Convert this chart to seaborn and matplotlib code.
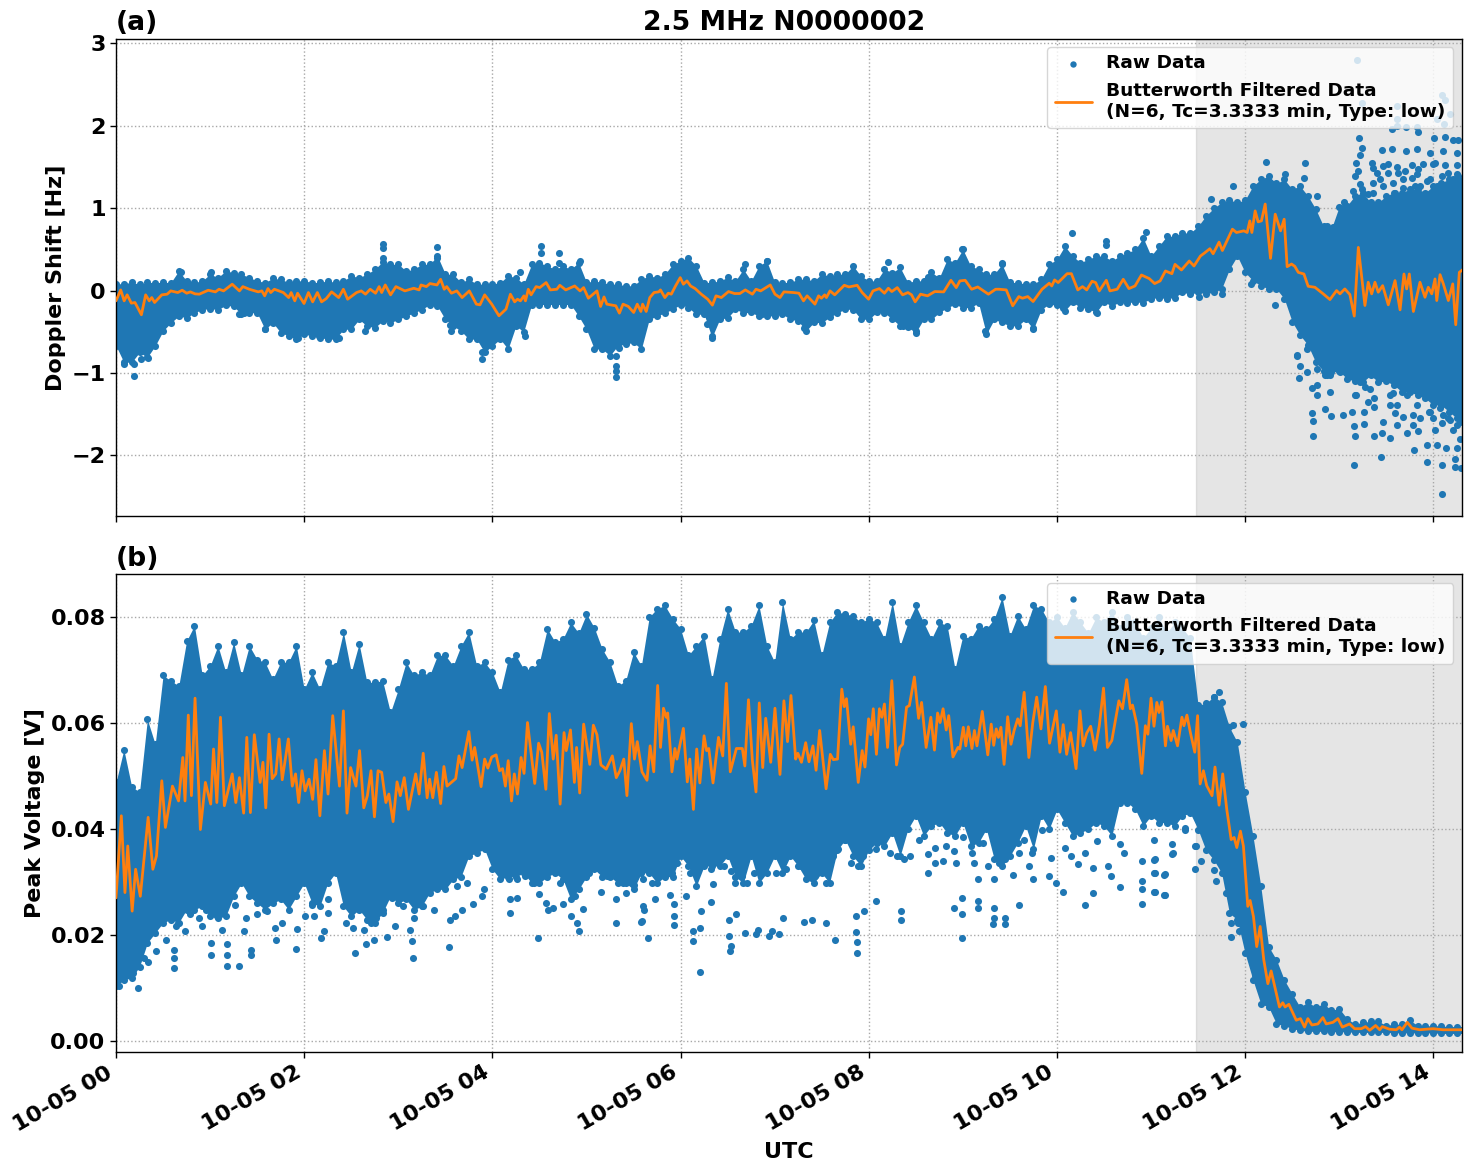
import numpy as np
import pandas as pd
import matplotlib
matplotlib.use("Agg")
import matplotlib.pyplot as plt
import matplotlib.dates as mdates
import matplotlib.ticker as mticker
import seaborn as sns

START = pd.Timestamp("2024-10-05 00:00")
BLUE = "#1f77b4"
ORANGE = "#ff7f0e"

# Doppler shift: extent of the raw cloud at whole 10-minute marks (Hz)
doppler_hi = [.08,.10,.10,.10,.24,.10,.20,.24,.20,.12,.15,.10,.12,.10,.10,.18,.20,.35,.32,.26,.32,.20,.10,.08,.08,.18,.08,.34,.26,.26,.10,.10,.08,.06,.18,.20,.36,.30,.10,.16,.26,.30,.10,.10,.14,.20,.20,.30,.12,.26,.28,.12,.22,.38,.50,.26,.20,.10,.08,.14,.38,.42,.38,.42,.42,.50,.42,.66,.70,.78,1.0,1.1,1.1,1.35,1.3,1.23,1.15,.78,1.02,1.15,1.07,1.15,1.19,1.23,1.27,1.35,1.39]
doppler_lo = [-.67,-.87,-.81,-.49,-.31,-.27,-.22,-.18,-.29,-.27,-.39,-.55,-.53,-.57,-.59,-.47,-.43,-.37,-.35,-.27,-.17,-.35,-.49,-.59,-.67,-.71,-.50,-.17,-.17,-.17,-.47,-.71,-.67,-.63,-.35,-.27,-.17,-.29,-.57,-.33,-.27,-.31,-.31,-.35,-.49,-.39,-.27,-.23,-.35,-.27,-.43,-.51,-.35,-.21,-.21,-.15,-.35,-.43,-.35,-.23,-.18,-.14,-.22,-.14,-.14,-.14,-.10,-.10,-.02,-.02,-.02,.26,.22,.06,.02,-.38,-.66,-.98,-.98,-1.1,-1.03,-1.1,-1.23,-1.27,-1.39,-1.47,-1.59]
# Same extent at the 5-minute marks in between
doppler_hi_mid = [.085,.077,.097,.097,.117,.117,.157,.218,.157,.097,.137,.117,.097,.117,.117,.157,.258,.318,.238,.318,.419,.198,.137,.077,.097,.157,.318,.298,.298,.339,.117,.077,.056,.137,.157,.318,.399,.097,.117,.117,.117,.359,.097,.137,.117,.177,.198,.177,.117,.218,.097,.117,.157,.339,.298,.198,.318,.097,.077,.318,.54,.339,.419,.359,.459,.64,.54,.66,.70,.907,1.07,1.07,1.27,1.39,1.35,1.27,.99,.75,1.03,1.19,1.07,1.19,1.23,1.19,1.31,1.37]
doppler_lo_mid = [-.87,-.75,-.67,-.39,-.33,-.23,-.23,-.19,-.27,-.47,-.51,-.59,-.55,-.59,-.47,-.35,-.45,-.39,-.31,-.23,-.19,-.43,-.59,-.75,-.59,-.43,-.17,-.17,-.17,-.31,-.71,-.79,-.65,-.71,-.31,-.226,-.206,-.286,-.347,-.226,-.266,-.306,-.286,-.367,-.387,-.326,-.226,-.347,-.266,-.347,-.448,-.347,-.266,-.165,-.206,-.528,-.387,-.428,-.468,-.165,-.246,-.206,-.266,-.186,-.145,-.145,-.085,-.085,-.044,-.04,.02,.42,.12,.02,-.10,-.54,-.87,-.99,-1.07,-1.11,-1.11,-1.15,-1.23,-1.31,-1.39,-1.55]

# Doppler shift: isolated raw samples outside the dense cloud (minutes, Hz)
doppler_out_min = [170.5,170.5,170.5,204.7,204.7,271.1,271.1,282.7,282.7,296,60.4,257.6,41.7,11.4,5.2,11.4,8.7,20.7,16.2,5.2,95.3,78.2,81.6,129.5,115.8,142.5,158.5,158.5,213.9,212.7,233.2,233.2,318.7,318.7,318.7,318.7,309.6,314.6,321,260.6,203.6,380.3,376.9,400.8,415,412,438.4,492.5,501.6,510,554,584.8,595,609.4,631.5,603.7,625.8,517.5,539.2,564.7,657,631.5,690.7,705,698.5,712.4,733.6,745.3,758.5,757.7,766,739,724,754.9,754.5,752.8,762.8,763.4,763.4,770.8,774.5,765.6,774,759.2,782.6,788,789.6,790,789.6,796,796,802.4,802.4,802.4,807,806.6,812.4,815.6,823,827.7,836.2,836.2,842.6,845.8,845.8,853.9,853.9,857.5,848.2,855,841,845.4,830.5,827.3,852.8,857,857,850.7,837,820.9,816.6,812.4,798.6,790.8,780.4,772,765.6,791.5,845.4,847.5,794.7,816.6,850.8,816.6,842.2,847.1,816.6,813.4,822.4,829.4,830.5,792.8,840.6,847.5,852.8,856,794.7,807,813.4,822.4,829.4,837.9,846.4,855,793.2,791,800.7,801.7,811.3,817,826.2,833.7,841,847.5,855,790,792.2,805.9,817.7,822,835.8,855,845.4,793.2,801.7,814.5,826.2,783,783.6,769.8,776.2,789,752.8,759.2,765.6,774.1,782.6,793.2,799.6,804.9,812.4,816.6,823,829.4,837.9,844.3,849.6,854.9,808.1,814.5,790,796.4,770.9,762.4,852.8,831.5,827.3,840,846.4,794.3,798.5,801.7,808.1,815.6,820.9,828.3,831.5,837.9,842.2,849.6,856,783.6,771.9,803.9,811.3,820.9,830.5,840,852.8,808.1,829.4]
doppler_out_hz = [.56,.52,.40,.53,.40,.54,.45,.46,.34,.36,.22,.23,.22,-1.04,-.895,-.895,-.81,-.82,-.83,-.67,-.47,-.29,-.27,-.55,-.57,-.58,-.49,-.35,-.49,-.415,-.75,-.83,-.79,-.91,-.98,-1.05,-.70,-.67,-.70,-.55,-.15,-.55,-.41,.32,.36,-.29,-.46,.35,-.43,-.49,-.49,-.46,-.15,.70,.60,-.21,-.27,.16,.50,.33,.705,.55,-.08,-.04,1.11,1.27,1.56,1.41,1.55,1.37,1.15,-.18,.08,-.91,-1.06,-.80,-1.49,-1.58,-1.77,-1.44,-1.52,-1.27,-1.23,-.99,-1.51,-1.47,-1.64,-1.77,-2.12,-1.47,-1.62,-1.31,-1.41,-1.76,-1.73,-2.02,-1.79,-1.49,-1.73,-1.94,-1.87,-2.08,-1.87,-2.12,-2.47,-2.04,-2.14,-2.15,-1.91,-1.91,-1.69,-1.61,-1.71,-1.63,-1.69,-1.59,-1.80,-1.57,-1.47,-1.53,-1.63,-1.39,-1.35,-1.27,-.99,-1.03,-1.15,2.80,2.38,2.31,2.28,2.24,2.14,2.08,2.08,2.02,2.0,1.96,1.98,1.98,1.93,1.85,1.85,1.87,1.83,1.83,1.73,1.71,1.72,1.69,1.72,1.67,1.69,1.67,1.65,1.55,1.55,1.49,1.54,1.50,1.52,1.54,1.55,1.53,1.52,1.39,1.45,1.35,1.43,1.45,1.33,1.41,1.39,1.29,1.30,1.31,1.37,1.07,.91,.75,.77,1.21,-.786,-.705,-.947,-1.03,-.947,-1.108,-1.189,-1.028,-1.269,-1.39,-1.269,-1.39,-1.471,-1.431,-1.552,-1.632,-1.592,-1.249,-1.269,-1.169,-1.028,-1.181,-1.39,-1.552,-1.511,-1.552,-1.511,1.229,1.169,1.189,1.269,1.189,1.249,1.269,1.269,1.35,1.269,1.431,1.39,1.028,.786,1.431,1.431,1.35,1.471,1.531,1.35,1.511,1.41]

# Doppler shift: low-pass filtered trace (minutes, Hz)
doppler_line_min = [0,3,5.2,7.1,9.8,12.1,16.2,18.9,21.2,22.8,24.6,29.2,32.6,34.9,39.4,42.2,45.1,47.4,50.4,53.1,58.8,63.4,65.7,68.6,74.1,78.7,80.9,85,90.7,93,94.8,96.9,98.7,101,106.7,110.1,111.7,114,115.8,119.9,122.7,125.4,128.4,131.1,134.1,137.5,142,145,147.7,153.4,156.4,159.1,162.1,165.5,167.8,169.4,171.7,175.1,178.5,184.2,189.9,193.3,194.5,197.9,200.2,204.7,207,209.3,210.9,213.9,217.3,220.7,225.3,229.8,232.1,235.1,239.6,244.2,248.7,251.5,254.2,256,257.9,260.1,261.1,262.9,264.7,267.9,270.2,274.3,277,281.1,283,286.8,292.5,295.9,298.2,301.2,306.7,309,311.2,313,318.7,321,323.3,326.7,330.1,332.4,334.7,335.8,338.1,340.4,343.1,346.1,347.2,350,352.2,354.1,356.8,359.8,361.8,364.1,366.4,369.3,373.2,377.3,380.3,382.6,386,390.6,394.4,397.8,401.3,405.8,408.1,411.1,417.2,420.2,423.4,425.9,432,435.5,438.4,440.7,445.7,448,449.8,451.9,453,455.3,458.3,464.4,467.4,472.6,475.8,479.9,482.7,486.8,490,492.5,494.7,498.2,501.6,505,507.3,509.6,513,517.5,522.1,527.8,532.4,535.8,538.1,541.5,545.6,549.5,556.3,560.9,563.1,567.7,571.8,575.7,578,581.4,584.8,590.5,595.1,596.7,598.5,600.8,606.5,609.2,613.3,616.3,619,622.4,624.7,627,631.5,633.8,638.4,642.3,645.9,649.8,653.9,658.9,662.3,665.8,669.2,673.3,675.3,679.4,684.4,687.4,691.5,694.3,697.5,699.6,703.4,705.5,711.9,714.5,719.2,721.3,723,724.3,726.4,728.3,730.4,732.8,736.2,739.2,742.6,744.9,746.8,749.6,751.7,753.9,757.5,760.2,764.5,769.8,774.1,778.3,780.5,783.6,786.8,789.6,792.2,796.4,798.5,800.7,802.8,804.9,807.7,811.3,815.6,818.8,821.3,823,824.7,827.3,831.5,834.7,836.8,839,841.1,842.2,844.3,846.4,849.6,852.4,854.3,856.6,858.8]
doppler_line_hz = [-.125,.008,-.125,-.052,-.153,-.145,-.294,-.052,-.125,-.085,-.145,-.052,-.044,-.004,-.024,.004,-.032,-.016,-.040,-.044,.004,-.016,.016,-.004,.077,-.004,.048,.016,-.016,-.004,-.064,.024,-.024,.016,-.024,-.085,-.024,-.125,-.032,-.157,-.024,-.137,-.024,-.137,-.097,-.016,-.085,.016,-.105,-.024,-.004,-.044,.016,-.032,.048,-.024,.068,-.052,.048,-.004,.028,.008,.068,.048,.085,.068,.137,.016,.048,-.032,-.004,-.085,-.004,-.165,-.173,-.052,-.165,-.306,-.225,-.044,-.137,-.105,-.125,-.064,-.125,.016,-.052,.048,.036,.097,.008,.016,.064,.008,.056,-.004,.036,-.093,-.004,-.193,-.077,-.165,-.185,-.274,-.165,-.193,-.266,-.165,-.254,-.165,-.254,-.085,-.024,-.016,.008,-.085,-.032,-.044,.056,.157,.077,.117,.056,.024,-.044,-.105,-.177,-.064,-.085,-.012,-.036,-.036,.008,-.044,.016,-.004,.068,-.044,-.085,-.016,-.024,-.032,-.125,-.064,-.165,-.064,-.093,-.052,-.085,-.004,-.052,.064,.044,.064,-.024,-.105,-.004,.024,-.032,.028,-.012,.036,-.052,-.024,-.052,-.137,-.044,-.064,-.012,-.016,.125,.036,.117,.125,.016,.044,-.044,.016,.016,.008,-.185,-.073,-.093,-.073,-.133,.016,.089,.056,.129,.097,.205,.205,.008,.048,.008,.113,.097,-.004,.125,-.004,.016,.137,.024,.056,.189,.145,.085,.117,.238,.205,.318,.250,.359,.298,.419,.459,.508,.447,.588,.486,.745,.705,.725,.705,.846,.705,.967,.834,.846,1.05,.391,.927,.725,.866,.290,.322,.294,.221,.201,.052,.040,-.040,-.109,0,-.040,.020,-.048,-.310,.524,-.181,.101,-.040,.101,-.020,.060,-.173,.121,-.234,.201,.020,.201,-.254,.101,-.081,.040,-.040,.141,-.121,.193,.081,-.121,.081,-.415,.221,.254]

# Peak voltage: extent of the raw cloud on a 5-minute grid (mV)
voltage_hi = [48.8,55,48,47,60.7,56,69,68,67,75.5,78.4,69,70.8,74.6,69.6,75.3,69,74.6,72,71.5,68.3,71.5,71.5,74.6,66.4,69.6,66.4,71.5,70.8,77.2,69.6,75,67.7,67.7,68,62,66.4,71.5,69,69.6,69,72.8,72.8,70.8,74.6,77.2,70.8,71.5,69.6,65.8,72,72.8,70.2,70.2,71.5,77.8,75.3,75.9,79,77,80.6,78,74,71.5,67,68,73.4,70.8,80,81.6,82.2,79.7,77.8,72.8,74.6,76.5,68.3,75.9,81.6,77.2,77.2,78.4,82.2,74.6,71.5,82.9,75.9,77.2,77.2,79.4,72.8,79,81,80.6,80.3,79,79.7,79,75.9,82.9,74.6,79,82.2,79,75.9,79,78.4,70.2,76.5,75.9,78.4,77.8,79.7,83.8,76.5,80.3,77.8,82.2,81.6,79,80,78,81,79,77,80,79,81,78,80,79,76,78,80,77,79,78,76,63.4,63.7,65,64,59.2,56.4,47,38.7,29.2,17.8,15.3,11.5,8.9,6.4,7.3,6.4,7,5.8,6.1,4.2,3.2,3.5,3.7,3.7,2.9,3.2,3.1,3.9,2.9,2.8,2.9,2.8,2.7,2.7,2.7]
voltage_lo = [10.3,11.5,11.9,14,18.5,20.4,22.3,22.9,22.3,24.8,24.8,25.4,23.5,23.2,23.5,27.3,29.8,27.3,26,24.8,26,26.7,24.8,27.3,29.8,26,25.4,29.8,31.7,25.4,23.5,24.8,22.9,22.3,24.2,27.3,26,26.7,24.8,25.4,28,28.6,28.6,30.5,31,34.9,35.5,36.2,32.4,30.5,31,31,31.7,29.8,29.8,31,31.7,30.5,26.7,28.6,31,32.4,31,31,29.8,29.8,28.6,31.7,31.7,29.8,31,31,34.9,33,29.2,33,33,33,34.9,31,29.8,34.9,29.8,31.7,34.9,31.7,34.9,33,30.5,29.8,31.7,29.8,36,38,34.9,33,36,37.4,36.8,39.3,34.9,40,42.5,38.7,40.6,41.2,39.3,38.7,41.2,36.8,37.4,40,34.3,33,34.9,37.4,40.6,36.2,42.5,40,43.7,41.2,38.7,39.3,40,41.2,40.6,38.7,45,45,43.7,40.6,42.5,41.2,41.2,40.6,42.5,43,39.9,36,34.2,31.7,24.1,22.9,16.5,11.5,7,6.4,3.2,2.9,2.3,2,1.8,1.8,1.8,1.7,1.7,1.7,1.6,1.6,1.6,1.6,1.6,1.5,1.5,1.5,1.5,1.5,1.5,1.4,1.4,1.4,1.4]

# Peak voltage: isolated raw samples around the dense cloud (minutes, mV)
voltage_out_min = [1.8,5.2,10.9,13.9,17.8,20.7,25.8,32.1,37.2,37.2,37.2,38.3,44,54.7,60.4,60.4,70.7,70.7,70.7,78.2,81.6,86,86,101.5,102.1,114.7,115.1,130.6,132.5,120.4,126.1,135.2,152.3,159.1,164.8,172.8,178.1,189.5,188.8,187.6,212.3,212.7,216.1,220.7,227.5,233.2,251,251.5,269.3,275.4,278.8,293.7,295.5,297.8,309.4,318.7,318.7,324.9,334.7,337,339.3,343.8,255.6,269.7,285.2,335.1,353.4,355.9,355.9,355.9,363.6,368.2,368.2,372.3,372.8,379.6,380.7,391.5,392.1,391,391,395.6,401.3,408.1,409.3,416.1,418.4,422.9,425.2,438.9,443.5,452.6,458.8,472,472.7,472.7,472,477.2,484.5,500.4,500.4,534.6,539.2,539.2,539.2,549.9,549.9,559.5,559.7,559.7,566.6,567,575.7,603.7,617.8,622.9,640.2,654.4,654.4,662.3,668.7,372.5,
                   336.3,340.8,345.4,347.7,351.1,354.5,357.9,361.4,365.9,370.5,375,379.6,383,387.6,392.1,394.4,399,402.4,407,410.4,413.8,417.2,420.6,424.1,427.5,432,436.6,441.2,445.7,449.1,452.6,457.1,460.5,465.1,468.5,473.1,476.5,479.9,484.5,489,493.6,498.2,502.7,506.6,511.8,517.5,517.5,522.1,522.1,527.1,529,534.6,535.8,540.3,546,547.2,549.5,552.9,556.3,559.7,563.1,566.6,570,572.3,575.7,579.1,582.1,584.4,584.8,590.5,595.1,596.2,599.6,605.3,608.7,613.3,617.9,622.9,625.8,632.7,634.3,640.2,642.5,654.4,654.4,662.3,662.3,668.7,673.7,681.7,688.5,
                   39.4,47.4,53.1,57.7,64.5,67.9,75.9,82.8,89.6,96.4,105.6,110.1,124.9,135.2,146.6,151.2,158,162.6,166,170.5,176.2,183.1,189.9,195.6,202.5,217.3,224.1,234.4,250.3,256,260.6,266.3,274.3,283.4,290.2,292.5,301.6,308.5,313,323.3,330.1,335.8,341.5,
                   661.7,661.7,661.7,661.7,668.1,668.1,673.4,673.4,681.7,688.1,688.1,691.9,700,701.5,711.1,715.3,716,711.1,726,728.1,706.8,707.9,703.2,700.4,718.5,712.1]
voltage_out_mv = [10.3,13.4,12.8,10,15.6,14.8,16.9,19.1,13.8,15.6,17.2,21.6,20.7,21.6,16.3,18.5,14.2,16.3,18.2,14.1,20.7,16.3,17.2,21.3,19.1,17.4,21.1,19.4,20.7,23.5,23.5,24.2,16.6,18.2,19.1,19.7,21.6,15.6,18.8,21,17.7,22.9,23.5,24.8,25.9,27.3,24.2,26.7,19.4,24.8,25.1,22.3,20.7,24.9,28.1,26.7,22.3,28,22.5,24.8,19.4,26.7,27,27.8,25.9,22.6,27.6,21.8,23.5,25.9,27.4,18.8,20.7,21.3,24.5,26.2,29.7,16.9,18,19.8,22.9,23.9,20.4,20.1,21,19.8,20.7,20.2,23.2,22.5,22.8,22.3,19.1,20.6,18.7,16.6,23.5,24.5,26.4,22.9,24.5,25.1,24,27,19.4,25,26.4,22.1,23.2,25,22,23.2,25.7,28.1,25.7,28,29.1,25.9,28.6,28.1,27.6,13,
                  30.5,33,32.4,34.3,34.9,31.7,33.6,36.2,31.7,33.6,34.9,32.4,34.9,33,32.1,29.8,31.1,29.8,31.7,34.9,36.2,34.9,31.7,34.9,32.4,35.5,33,34.9,31.1,35.5,29.8,34.9,36.2,38,33.6,33,34.9,37.4,36.2,38,35.5,34.9,34.3,34.9,38,35.2,31.7,36.5,33.6,33.9,36.8,35.8,33.6,38.4,35.5,33.6,30.5,37.4,33,30.5,33.6,34.3,36.8,31.4,35.5,38,33,35.5,30.5,39.9,31.1,34.6,29.8,36.5,34.9,33.3,35.5,32.7,37.7,33,31.2,37.1,35.5,33.9,30.2,34.3,31.7,31.6,35.5,39.9,36.8,
                  22.3,23.9,23.2,24.8,23.5,21,25.7,23.2,23.9,24.5,22.3,27,25.7,26.7,22.3,21.3,21,22.3,23.2,24.8,27,25.4,23.2,25.4,24.8,29.2,29.8,28.6,30.5,30.5,31.1,29.8,26.1,29.8,23.5,27.3,31.7,32.4,31.1,29.8,29.5,25.4,29.8,
                  38,34.2,31.7,28.1,31.4,27.5,37.1,35.3,40.1,36.8,32.5,34,32.2,30.1,22.2,22.2,20.8,19.7,12.4,11.1,31.7,27.9,65.9,65,59.9,59.6]

# Peak voltage: low-pass filtered trace (minutes, mV)
voltage_line_min = [0,3.4,5.7,7.5,10.3,12.5,15.5,20.5,23.5,25.8,29.2,31.5,36,39.9,42.6,44,46.1,48.1,50.4,53.8,57,60.4,62.2,64.3,66.6,69.1,74.1,76.4,78.7,81.4,83.4,85.7,88.2,91.9,93.7,95.5,97.6,99.6,101.9,104,106,109.9,112.4,114.5,116.5,118.6,120.6,123.1,125.4,127.5,130,132.9,135.2,138.2,142.5,145,147.3,149.6,153,155.3,158,160.3,162.6,164.8,167.1,169.4,172.1,174,176.7,179.2,181.3,183.8,186.5,191.1,193.3,195.9,198.4,200,202,204.3,207,209.1,211.1,216.6,218.7,220.7,225,227.1,228.7,232.8,235.1,237.1,239.6,242.4,244.6,246.5,248.3,250.1,252.2,254,256,258.3,260.2,262.4,267,269.5,271.5,274.1,276.3,278.8,280.7,283.2,285.7,287.1,289.8,292.3,293.7,295.7,298.2,302.1,304.4,306.7,309.2,312.6,316.5,319,321.3,323.8,325.8,328.6,330.6,332.4,335.4,338.6,340.6,342.9,345.4,347.2,349.1,350.9,351.8,354.5,356.4,357.7,361.8,364.3,365.9,368.2,370.3,372.3,375,376.6,378,380.7,384.2,386.9,389.2,391.7,395.6,399.4,401,403.3,405.8,408.1,410.2,412.4,414.3,417.5,420.2,423.4,425.9,428.2,430.4,433.4,434.8,437.1,439.8,441.9,444.4,446.4,448.7,452.8,455.5,457.4,460.1,462.8,464.4,465.8,468.5,470.1,473.3,475.8,477.6,479.9,481.3,482.9,484.9,486.8,488.4,490,492,494.7,497.7,499.8,501.6,504.1,505.9,509.1,511.8,513.7,516.6,519.6,521.9,523.9,525.5,527.4,529.4,531,533.7,536.9,538.1,540.3,541.9,543.5,545.8,547.4,549,552.4,555.9,558.1,559.7,561.3,562.7,564.3,566.3,568.6,570.7,572.7,575,576.6,579.1,582.1,584.6,587.1,589.8,592.6,595.3,599.6,601.9,604,606.2,608.7,612.2,614.7,616.7,619,621.5,624.3,627,629.7,632.2,635,639.5,641.8,644.5,646.8,648.2,650.9,654.1,656.4,658,660,661.9,663.7,665.1,666.9,669.2,670.5,672.8,674.2,676.9,679.7,681,682.9,685.1,687.9,689.7,691.3,693.4,695.5,698.9,700.8,703.4,705.7,708.3,711.1,713,714.7,717,718.9,721.7,723.2,725.3,727.4,729.6,731.9,734.5,736.6,741.9,744,745.5,747.9,752.6,755.3,757.9,760,762.6,766.4,769.6,771.7,776,779.2,782,786.6,789.8,794.1,796.8,799.4,803.2,805.8,807.5,812.1,816.4,818.5,820,823.4,826.4,831.3,839.8,846.2,858]
voltage_line_mv = [27,42.5,28,36.8,24.5,32.4,27.3,42.2,32.4,34.9,49.1,40.3,48.1,45.3,53.5,45.3,61.5,46.3,64.7,39.9,48.8,44.7,55.1,45,61.1,44.4,50.4,45,49.7,43,57.3,43.1,57.8,48.8,52.6,44,57.9,49.5,50.4,57,49.3,57,48.1,50.4,45,51,47.2,49.4,45.6,53.1,42.5,54.8,46.6,61.4,48.1,62.3,43,51.6,48.1,54.8,44,46.3,51,42.3,51,50.7,45,46.6,41.4,48.9,46.3,49.7,43.7,50.4,46.6,54.3,45.9,49.4,45.9,50.7,44.8,51.8,48.1,49.5,53.8,51.6,58.4,53,55.4,48,53.2,51.5,53.6,54,51,51.4,48.1,52.9,45.3,50.4,46.6,53.5,50.5,60.1,48.6,56.2,54.5,47.5,61.8,53.2,57.7,44.7,58.2,54.8,58.7,48.8,55.4,46.8,59.8,52.2,59.6,57.8,52.1,51.3,53.8,49.7,51,53.2,46.3,59.9,53.2,56.5,50.8,49.2,55.7,50.8,67.1,55.4,62.8,61.1,61.9,50.8,55.2,53.2,59,48.9,53.2,43.7,55.1,48.7,57.6,54.8,55.2,48.7,57.3,53.8,67.5,50.8,55.2,55.2,51.9,64.4,52.9,47,63.8,51.6,60.9,52.6,62.8,50.3,64.2,56.5,65.2,53.2,54.3,52.6,56.3,52.7,55.7,51.1,58.6,47.6,54.1,53.1,53.2,66.4,63.1,64.6,56,59.3,48.8,54.8,51.7,60.8,57.8,62.7,54.1,62.7,61.1,63.6,55.4,68,52.1,55.4,56,63,63.3,68.7,60.9,63.9,55.4,61.1,54.9,61.9,60.1,62.7,58.7,61.4,53.6,55.4,55.1,59.2,55.7,59.3,55.2,58.6,55.7,62.2,54,59.8,55.8,58.9,57.3,59.2,52.2,61.2,56,58.6,60.8,59.5,65.8,53.5,60.1,64.9,58.9,66.9,56.2,62.3,54.5,59.7,54.1,58.2,51.4,62.3,55.7,58.1,59.4,54.9,59.5,66.6,55.4,56.7,64.2,62.7,68.2,62.7,63.4,59.8,50.5,59.5,57.9,64.7,59.4,63.9,62,64,55.7,59.4,56.7,58.6,55.7,61.1,59.5,61.5,58.2,54.5,61.4,48.5,51,48.2,46.3,51.7,44.5,50.4,43.7,38,38.4,36.5,39.6,36.8,25.4,26.5,23.5,17.8,21.6,15.3,10.8,13.2,6.4,7.2,6.4,6.9,3.9,4.2,2.6,4.2,3,3.2,4.4,3.2,3.5,4.2,2.6,3.2,2.3,2.3,2.7,2,2.9,2.1,2.7,2.2,2.1,2.6,2.1,3.5,2.4,2.1,2.3,2.1,2.1]

hours_ticks = [0, 2, 4, 6, 8, 10, 12, 14]
doppler_ticks = [-2, -1, 0, 1, 2, 3]
voltage_ticks = [0.00, 0.02, 0.04, 0.06, 0.08]
raw_label = "Raw Data"
line_label = "Butterworth Filtered Data\n(N=6, Tc=3.3333 min, Type: low)"
event_start_min = 688.6
axis_end_min = 858.3


def stamps(minutes):
    return START + pd.to_timedelta(np.asarray(minutes, dtype=float), unit="min")


def interleave(whole, mid):
    merged = np.empty(len(whole) + len(mid))
    merged[::2] = whole
    merged[1::2] = mid
    return merged


def draw_panel(ax, step, hi, lo, out_t, out_v, line_t, line_v):
    grid = stamps(np.arange(len(hi)) * step)
    ax.axvspan(stamps([event_start_min])[0], stamps([axis_end_min + 5])[0],
               color="#808080", alpha=0.2, zorder=0, linewidth=1)
    ax.fill_between(grid, lo, hi, color=BLUE, linewidth=0, zorder=2)
    raw = pd.DataFrame({
        "t": list(grid) + list(grid) + list(stamps(out_t)),
        "v": list(hi) + list(lo) + list(out_v),
    })
    sns.scatterplot(data=raw, x="t", y="v", ax=ax, color=BLUE, s=26,
                    linewidth=0, label=raw_label, zorder=2)
    trace = pd.DataFrame({"t": stamps(line_t), "v": line_v})
    sns.lineplot(data=trace, x="t", y="v", ax=ax, color=ORANGE, linewidth=2,
                 sort=False, errorbar=None, label=line_label, zorder=3)
    ax.grid(True, linestyle=":", color="#a8a8a8", linewidth=1)
    ax.set_axisbelow(True)
    ax.legend(loc="upper right", framealpha=0.8, bbox_to_anchor=(0.9935, 0.982),
              borderaxespad=0, markerscale=0.9,
              prop={"weight": "bold", "size": 13.3})


sns.set_theme(style="ticks", rc={
    "font.family": "DejaVu Sans",
    "font.weight": "bold",
    "axes.labelweight": "bold",
    "axes.titleweight": "bold",
    "axes.edgecolor": "black",
    "axes.linewidth": 1,
    "xtick.color": "black",
    "ytick.color": "black",
    "text.color": "black",
    "axes.labelcolor": "black",
})

fig, (ax_a, ax_b) = plt.subplots(2, 1, sharex=True, figsize=(14.71, 11.72), dpi=100)
fig.subplots_adjust(left=116 / 1471, right=1462 / 1471, top=1 - 38.5 / 1172,
                    bottom=1 - 1052 / 1172, hspace=58 / 478)

draw_panel(ax_a, 5, interleave(doppler_hi, doppler_hi_mid),
           interleave(doppler_lo, doppler_lo_mid),
           doppler_out_min, doppler_out_hz, doppler_line_min, doppler_line_hz)
draw_panel(ax_b, 5, np.array(voltage_hi) / 1000, np.array(voltage_lo) / 1000,
           voltage_out_min, np.array(voltage_out_mv) / 1000,
           voltage_line_min, np.array(voltage_line_mv) / 1000)

ax_a.set_xlim(stamps([0])[0], stamps([axis_end_min])[0])
ax_a.set_ylim(-2.74, 3.06)
ax_b.set_ylim(-0.0021, 0.0881)
ax_a.set_yticks(doppler_ticks)
ax_b.set_yticks(voltage_ticks)
ax_b.yaxis.set_major_formatter(mticker.FormatStrFormatter("%.2f"))
ax_b.set_xticks(stamps(np.array(hours_ticks) * 60))
ax_b.xaxis.set_major_formatter(mdates.DateFormatter("%m-%d %H"))

for ax in (ax_a, ax_b):
    ax.tick_params(axis="both", labelsize=16, length=4, width=1)
ax_a.set_xlabel("")
ax_a.set_ylabel("Doppler Shift [Hz]", fontsize=16, fontweight="bold")
ax_b.set_ylabel("Peak Voltage [V]", fontsize=16, fontweight="bold")
ax_b.set_xlabel("UTC", fontsize=16, fontweight="bold", labelpad=5)
ax_a.set_title("2.5 MHz N0000002", fontsize=19.2, fontweight="bold", pad=5, x=0.4965)
ax_a.set_title("(a)", loc="left", fontsize=19.2, fontweight="bold", pad=6)
ax_b.set_title("(b)", loc="left", fontsize=19.2, fontweight="bold", pad=6)

fig.autofmt_xdate(rotation=30, ha="right")
fig.subplots_adjust(bottom=1 - 1052 / 1172)
fig.savefig("out.png", dpi=100)
